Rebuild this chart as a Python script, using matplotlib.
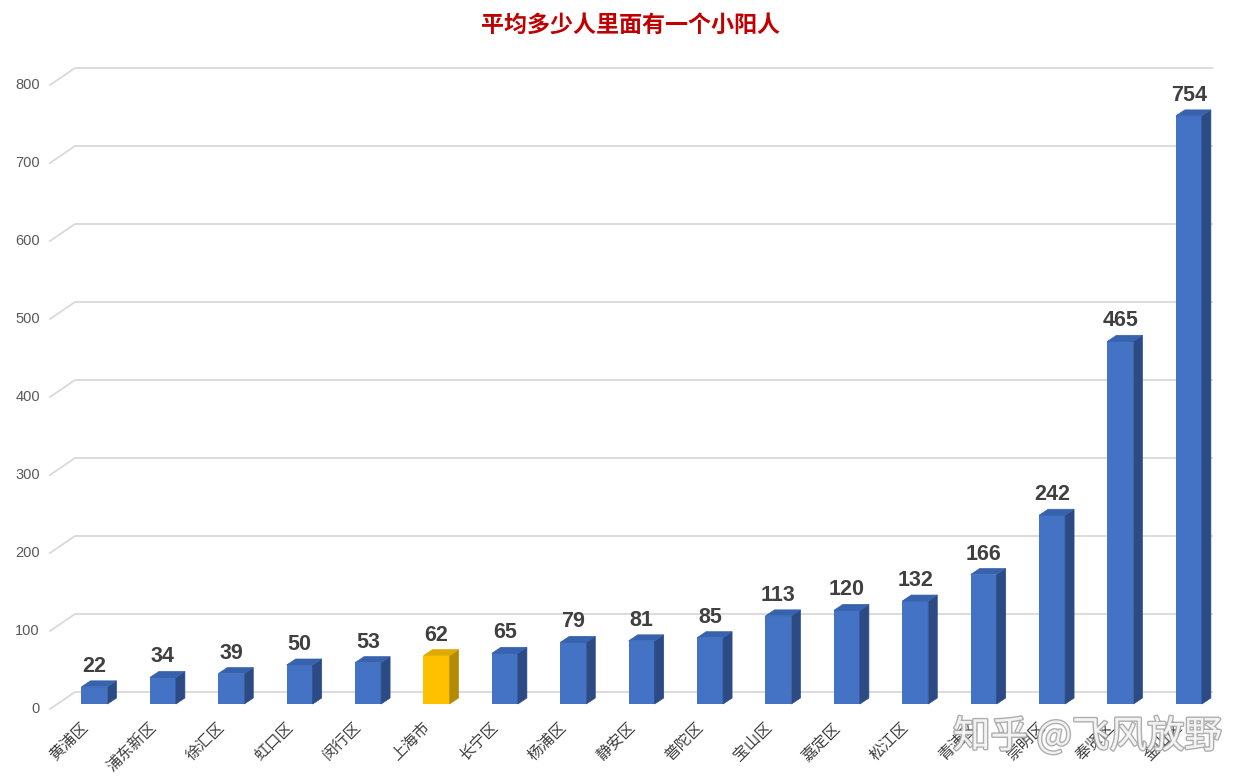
import matplotlib
matplotlib.use("Agg")
import matplotlib.pyplot as plt
from matplotlib.patches import Polygon
from matplotlib.lines import Line2D
from matplotlib.transforms import IdentityTransform, offset_copy
import matplotlib.patheffects as pe

plt.rcParams['font.family'] = ['Liberation Sans', 'Noto Sans CJK SC', 'DejaVu Sans']

# ---- data ----
districts = ['黄浦区', '浦东新区', '徐汇区', '虹口区', '闵行区', '上海市', '长宁区', '杨浦区',
             '静安区', '普陀区', '宝山区', '嘉定区', '松江区', '青浦区', '崇明区', '奉贤区', '金山区']
values = [22, 34, 39, 50, 53, 62, 65, 79, 81, 85, 113, 120, 132, 166, 242, 465, 754]
highlight = '上海市'
y_ticks = [0, 100, 200, 300, 400, 500, 600, 700, 800]
title = '平均多少人里面有一个小阳人'
watermark = '知乎 @飞风放野'

# ---- styling ----
W, H, DPI = 1256, 783, 100
blue = dict(front='#4472c4', side='#2c4b85', top='#3762ae')
gold = dict(front='#ffc000', side='#b68a00', top='#e0a900')
depth_dx, depth_dy = 9, 6          # bar depth (pixels)
front_dx, front_dy = -7, -5        # floor/front edge offset from bar plane
back_dx, back_dy = 18, 12          # back wall offset from bar plane

fig = plt.figure(figsize=(W / DPI, H / DPI), dpi=DPI)
ax = fig.add_axes([57 / W, 79 / H, (1194 - 57) / W, 624 / H])
ax.set_xlim(-0.548, 16.075)
ax.set_ylim(0, 800)
ax.axis('off')

x = list(range(len(districts)))
bw = 0.38
colors = [gold if d == highlight else blue for d in districts]

# back wall gridlines with slanted floor edge
for v in y_ticks:
    x0d, yd = ax.transData.transform((ax.get_xlim()[0], v))
    x1d, _ = ax.transData.transform((ax.get_xlim()[1], v))
    line = Line2D([x0d + front_dx, x0d + back_dx, x1d + back_dx],
                  [yd + front_dy, yd + back_dy, yd + back_dy],
                  transform=IdentityTransform(), color='#d9d9d9', lw=1.3, zorder=0)
    fig.add_artist(line)
    fig.text(x0d + front_dx - 10, yd + front_dy, str(v), transform=IdentityTransform(),
             ha='right', va='center', fontsize=10.5, color='#595959')

# bars (front faces)
bars = ax.bar(x, values, width=bw, color=[c['front'] for c in colors], zorder=3, clip_on=False)

# side and top faces
for xi, v, c in zip(x, values, colors):
    lx, by = ax.transData.transform((xi - bw / 2, 0))
    rx, ty = ax.transData.transform((xi + bw / 2, v))
    side = Polygon([(rx, by), (rx + depth_dx, by + depth_dy), (rx + depth_dx, ty + depth_dy), (rx, ty)],
                   closed=True, transform=IdentityTransform(), facecolor=c['side'],
                   edgecolor=c['side'], lw=0.5, zorder=3)
    top = Polygon([(lx, ty), (rx, ty), (rx + depth_dx, ty + depth_dy), (lx + depth_dx, ty + depth_dy)],
                  closed=True, transform=IdentityTransform(), facecolor=c['top'],
                  edgecolor=c['top'], lw=0.5, zorder=3)
    fig.add_artist(side)
    fig.add_artist(top)

# value labels
lab_tr = offset_copy(ax.transData, fig=fig, x=0, y=10, units='dots')
for xi, v in zip(x, values):
    ax.text(xi, v, str(v), transform=lab_tr, ha='center', va='bottom',
            fontsize=15.5, fontweight='bold', color='#404040', clip_on=False)

# category labels
cat_tr = offset_copy(ax.transData, fig=fig, x=-3, y=-15, units='dots')
for xi, d in zip(x, districts):
    ax.text(xi, 0, d, transform=cat_tr, ha='right', va='top', rotation=45,
            fontsize=11.3, color='#404040', family=['Noto Sans CJK SC', 'DejaVu Sans'],
            clip_on=False)

# title
fig.text(630 / W, 1 - 25 / H, title, ha='center', va='center', fontsize=16.6,
         fontweight='bold', color='#c00000', family=['Noto Sans CJK SC', 'DejaVu Sans'])

# watermark
fig.text(953 / W, 1 - 737 / H, watermark, ha='left', va='center', fontsize=27,
         color='white', alpha=0.85, family=['Noto Sans CJK SC', 'DejaVu Sans'],
         path_effects=[pe.withStroke(linewidth=2, foreground='#a0a0a0')], zorder=10)

fig.savefig('out.png', dpi=DPI, facecolor='white')
